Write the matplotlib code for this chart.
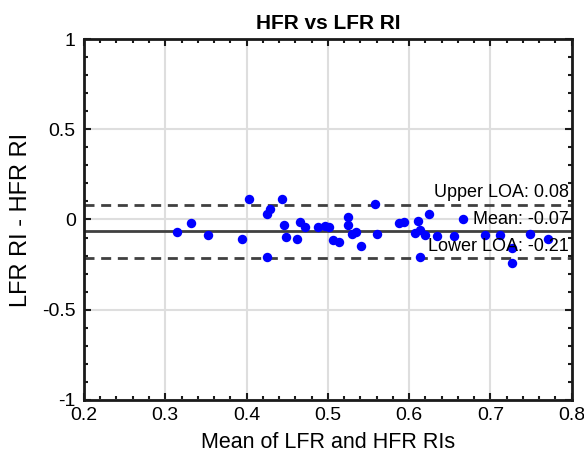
import matplotlib
matplotlib.use("Agg")
import matplotlib.pyplot as plt
from matplotlib.ticker import MultipleLocator, FuncFormatter

plt.rcParams['font.family'] = ['Liberation Sans', 'DejaVu Sans']

mean_vals = [0.315, 0.332, 0.353, 0.395, 0.403, 0.425, 0.429, 0.425, 0.444, 0.446,
             0.448, 0.462, 0.466, 0.472, 0.488, 0.497, 0.502, 0.507, 0.514, 0.525,
             0.525, 0.530, 0.535, 0.541, 0.558, 0.560, 0.588, 0.594, 0.607, 0.611,
             0.613, 0.619, 0.613, 0.625, 0.634, 0.655, 0.666, 0.693, 0.712, 0.727,
             0.727, 0.749, 0.771]
diff_vals = [-0.069, -0.021, -0.086, -0.110, 0.115, 0.030, 0.058, -0.210, 0.112, -0.032,
             -0.097, -0.106, -0.012, -0.043, -0.040, -0.036, -0.040, -0.114, -0.123, 0.012,
             -0.030, -0.080, -0.068, -0.147, 0.086, -0.082, -0.018, -0.012, -0.073, -0.007,
             -0.058, -0.086, -0.210, 0.030, -0.091, -0.091, 0.001, -0.086, -0.086, -0.160,
             -0.240, -0.082, -0.106]
mean_diff = -0.066
upper_loa = 0.082
lower_loa = -0.214

fig = plt.figure(figsize=(5.84, 4.70), dpi=100)
ax = fig.add_axes([0.1438, 0.149, 0.835, 0.768])

ax.set_xlim(0.2, 0.8)
ax.set_ylim(-1, 1)
ax.xaxis.set_major_locator(MultipleLocator(0.1))
ax.xaxis.set_minor_locator(MultipleLocator(0.02))
ax.yaxis.set_major_locator(MultipleLocator(0.5))
ax.yaxis.set_minor_locator(MultipleLocator(0.1))
ax.xaxis.set_major_formatter(FuncFormatter(lambda v, p: f"{v:g}"))
ax.yaxis.set_major_formatter(FuncFormatter(lambda v, p: f"{v:g}"))

ax.grid(True, which='major', color='#dedede', linewidth=1.5)
ax.set_axisbelow(True)

dash = (0, (3.6, 2.4))
ax.axhline(mean_diff, color='#404040', linewidth=2, zorder=2)
ax.axhline(upper_loa, color='#404040', linewidth=2, linestyle=dash, zorder=2)
ax.axhline(lower_loa, color='#404040', linewidth=2, linestyle=dash, zorder=2)

ax.plot(mean_vals, diff_vals, 'o', color='#0000ff', markersize=6.8, markeredgewidth=0, zorder=3)

tfs = 13
ax.text(0.7965, upper_loa + 0.02, f"Upper LOA: {upper_loa:.2f}", ha='right', va='bottom', fontsize=tfs, zorder=4)
ax.text(0.7965, mean_diff + 0.02, f"Mean: {mean_diff:.2f}", ha='right', va='bottom', fontsize=tfs, zorder=4)
ax.text(0.7965, lower_loa + 0.02, f"Lower LOA: {lower_loa:.2f}", ha='right', va='bottom', fontsize=tfs, zorder=4)

for s in ax.spines.values():
    s.set_linewidth(2)
    s.set_color('#1a1a1a')
ax.tick_params(which='both', direction='in', top=True, right=True, width=1.5, color='#1a1a1a')
ax.tick_params(which='major', length=5, labelsize=14)
ax.tick_params(axis='x', which='major', pad=5)
ax.tick_params(axis='y', which='major', pad=6)
ax.tick_params(which='minor', length=3)

ax.set_xlabel("Mean of LFR and HFR RIs", fontsize=15.5, labelpad=6)
ax.set_ylabel("LFR RI - HFR RI", fontsize=17, labelpad=7)
ax.set_title("HFR vs LFR RI", fontsize=15, fontweight='bold', pad=7)

fig.savefig("out.png", dpi=100)
